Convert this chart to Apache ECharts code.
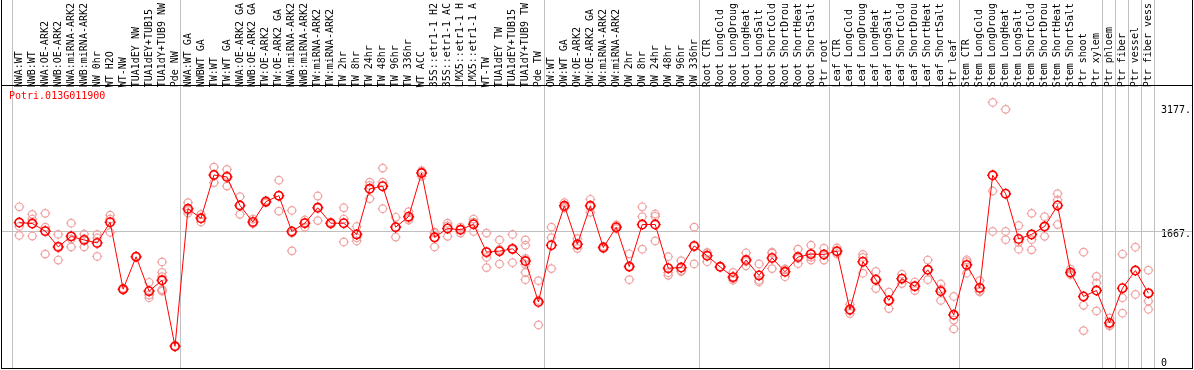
<!DOCTYPE html>
<html><head><meta charset="utf-8">
<script src="https://cdn.jsdelivr.net/npm/echarts@6/dist/echarts.min.js"></script>
<style>html,body{margin:0;padding:0;background:#fff}#c{width:1194px;height:370px}</style>
</head><body><div id="c"></div>
<script>
const geneTitle = 'Potri.013G011900';

const categories = [
  'NWA:WT','NWB:WT','NWA:OE-ARK2','NWB:OE-ARK2','NWA:miRNA-ARK2','NWB:miRNA-ARK2','NW 0hr','WT H2O','WT-NW','TUA1dEY NW','TUA1dEY+TUB15','TUA1dY+TUB9 NW','Pde NW',
  'NWA:WT GA','NWBWT GA','TW:WT','TW:WT GA','NWA:OE-ARK2 GA','NWB:OE-ARK2 GA','TW:OE-ARK2','TW:OE-ARK2 GA','NWA:miRNA-ARK2','NWB:miRNA-ARK2','TW:miRNA-ARK2','TW:miRNA-ARK2',
  'TW 2hr','TW 8hr','TW 24hr','TW 48hr','TW 96hr','TW 336hr','WT ACC','35S::etr1-1 H2','35S::etr1-1 AC','LMX5::etr1-1 H','LMX5::etr1-1 A','WT-TW','TUA1dEY TW','TUA1dEY+TUB15','TUA1dY+TUB9 TW','Pde TW',
  'OW:WT','OW:WT GA','OW:OE-ARK2','OW:OE-ARK2 GA','OW:miRNA-ARK2','OW:miRNA-ARK2','OW 2hr','OW 8hr','OW 24hr','OW 48hr','OW 96hr','OW 336hr',
  'Root CTR','Root LongCold','Root LongDroug','Root LongHeat','Root LongSalt','Root ShortCold','Root ShortDrou','Root ShortHeat','Root ShortSalt','Ptr root',
  'Leaf CTR','Leaf LongCold','Leaf LongDroug','Leaf LongHeat','Leaf LongSalt','Leaf ShortCold','Leaf ShortDrou','Leaf ShortHeat','Leaf ShortSalt','Ptr leaf',
  'Stem CTR','Stem LongCold','Stem LongDroug','Stem LongHeat','Stem LongSalt','Stem ShortCold','Stem ShortDrou','Stem ShortHeat','Stem ShortSalt','Ptr shoot','Ptr xylem',
  'Ptr phloem','Ptr fiber','Ptr vessel','Ptr fiber vess'
];

const means = [
  1770,1758,1666,1474,1602,1558,1522,1774,959,1354,935,1067,264,
  1938,1822,2349,2325,1978,1777,2025,2097,1662,1762,1950,1762,
  1762,1626,2181,2213,1714,1842,2373,1590,1698,1682,1750,1410,1422,1450,1302,803,
  1494,1974,1506,1974,1466,1714,1234,1746,1746,1214,1222,1486,
  1366,1231,1106,1314,1127,1339,1171,1350,1386,1382,
  1422,711,1294,1075,823,1087,995,1195,935,647,
  1255,975,2345,2121,1570,1626,1722,1978,1163,871,943,
  548,971,1186,911
];

const replicates = [
  [1962,1722,1614],[1870,1813,1606],[1882,1714,1386],[1626,1314,1482],[1762,1474,1570],[1630,1474,1570],[1626,1582,1358],[1861,1813,1650],[970,959,948],[1360,1350,1352],[1043,887,855],[1291,1163,1111,955,935,950],[270,260,262],
  [2013,1885,1916],[1870,1777,1819],[2445,2257,2345],[2417,2214,2344],[2085,1870,1979],[1813,1760,1758],[2040,2010,2025],[2285,1909,2097],[1918,1426,1642],[1801,1714,1771],[2093,1794,1963],[1775,1750,1761],
  [1950,1813,1534],[1722,1586,1546],[2261,2061,2221],[2433,2261,1938],[1834,1594,1714],[1902,1801,1823],[2401,2333,2385],[1654,1474,1642],[1762,1602,1730],[1714,1642,1690],[1813,1662,1775],[1642,1346,1222],[1558,1266,1442],[1626,1282,1442],[1558,1494,1334,1262,1163,1075],[1063,524,822],
  [1714,1586,1210],[2013,1950,1958],[1574,1454,1490],[2053,1894,1975],[1480,1450,1468],[1742,1694,1706],[1390,1075,1237],[1962,1842,1446],[1874,1846,1546],[1354,1160,1128],[1306,1174,1186],[1714,1266,1478],
  [1406,1294,1398],[1235,1228,1230],[1163,1087,1068],[1402,1243,1297],[1266,1047,1068],[1410,1210,1397],[1206,1111,1196],[1446,1270,1334],[1494,1314,1350],[1458,1314,1374],
  [1462,1414,1390],[775,663,695],[1382,1154,1346],[1175,967,1083],[923,723,823],[1142,1027,1092],[1046,943,996],[1314,1075,1196],[1022,823,960],[871,584,476],
  [1294,1154,1317],[1063,935,927],[3232,2154,1662],[3148,1662,1562],[1734,1446,1530],[1882,1562,1438],[1842,1602,1722],[2121,2045,1746],[1202,1135,1152],[1410,763,455],[1115,1035,695],
  [608,515,514],[1387,855,667],[1470,895],[1190,815,715]
];

// last category index of each group (vertical separators drawn after them); -1 = before the first
const groupEnds = [-1, 12, 40, 52, 62, 72, 83, 84, 85, 86, 87];
const yTickValues = [0, 1667, 3177];
const yTickLabels = ['0', '1667.', '3177.'];
const refLineValue = 1667;

const FONT = 'DejaVu Sans Mono';
const frame = { left: 1, right: 1193, top: 0, header: 85, bottom: 368 };
const yMax = 3392;

const markerPath = 'path://M10,0L10,1.6M10,18.4L10,20M0,10L1.6,10M18.4,10L20,10' +
  'M17.6,10C17.6,14.2 14.2,17.6 10,17.6C5.8,17.6 2.4,14.2 2.4,10C2.4,5.8 5.8,2.4 10,2.4C14.2,2.4 17.6,5.8 17.6,10Z';

const repData = [];
replicates.forEach((arr, i) => arr.forEach(v => repData.push([i, v])));

const chart = echarts.init(document.getElementById('c'), null, { renderer: 'canvas' });
const nCat = categories.length;

const yLabelBase = { margin: 6, fontFamily: FONT, fontSize: 10, color: '#000',
                     formatter: v => yTickLabels[yTickValues.indexOf(v)] };

chart.setOption({
  animation: false,
  backgroundColor: '#fff',
  title: {
    text: geneTitle, left: 9, top: 91, padding: 0,
    textStyle: { color: '#ff0000', fontFamily: FONT, fontSize: 10, fontWeight: 'normal' }
  },
  grid: { left: 12.8, width: nCat * 13, top: frame.header, height: frame.bottom - frame.header, containLabel: false },
  xAxis: [
    {
      type: 'category', data: categories, position: 'top', boundaryGap: true,
      axisLine: { show: false }, axisTick: { show: false }, splitLine: { show: false },
      axisLabel: { interval: 0, rotate: 90, margin: 2, fontFamily: FONT, fontSize: 10, color: '#000' }
    },
    { type: 'value', min: -0.5, max: nCat - 0.5, show: false }
  ],
  yAxis: [
    {
      type: 'value', min: 0, max: yMax, position: 'right',
      axisLine: { show: false }, axisTick: { show: false }, splitLine: { show: false },
      axisLabel: Object.assign({}, yLabelBase, { customValues: yTickValues.slice(1), verticalAlign: 'top', lineHeight: 7 })
    },
    {
      type: 'value', min: 0, max: yMax, position: 'right',
      axisLine: { show: false }, axisTick: { show: false }, splitLine: { show: false },
      axisLabel: Object.assign({}, yLabelBase, { customValues: [yTickValues[0]], verticalAlign: 'bottom', lineHeight: 10 })
    }
  ],
  series: [
    {
      type: 'custom', xAxisIndex: 1, yAxisIndex: 0, clip: false, silent: true, z: 1,
      data: groupEnds.map(i => [i + 0.4]),
      renderItem: (params, api) => {
        const x = Math.round(api.coord([api.value(0), 0])[0]) + 0.5;
        return { type: 'line', shape: { x1: x, y1: frame.top, x2: x, y2: frame.bottom },
                 style: { stroke: '#c0c0c0', lineWidth: 1 } };
      }
    },
    {
      type: 'custom', xAxisIndex: 1, yAxisIndex: 0, clip: false, silent: true, z: 1,
      data: [[0, refLineValue]],
      renderItem: (params, api) => {
        const y = Math.round(api.coord([0, api.value(1)])[1]) + 0.5;
        return { type: 'line', shape: { x1: frame.left, y1: y, x2: frame.right, y2: y },
                 style: { stroke: '#c0c0c0', lineWidth: 1 } };
      }
    },
    {
      type: 'scatter', xAxisIndex: 0, yAxisIndex: 0, data: repData, z: 2,
      symbol: markerPath, symbolSize: 10,
      itemStyle: { color: 'rgba(255,255,255,0)', borderColor: '#f0a0a0', borderWidth: 1.2, opacity: 1 }
    },
    {
      type: 'line', xAxisIndex: 0, yAxisIndex: 0, data: means, z: 3,
      symbol: markerPath, symbolSize: 11, showSymbol: true,
      lineStyle: { color: '#ff0000', width: 1 },
      itemStyle: { color: 'rgba(255,255,255,0)', borderColor: '#ff0000', borderWidth: 1.6 }
    }
  ],
  graphic: [
    { type: 'line', shape: { x1: frame.left + 0.5, y1: frame.top, x2: frame.left + 0.5, y2: frame.bottom + 1 }, style: { stroke: '#000', lineWidth: 1 }, z: 10 },
    { type: 'line', shape: { x1: frame.right - 0.5, y1: frame.top, x2: frame.right - 0.5, y2: frame.bottom + 1 }, style: { stroke: '#000', lineWidth: 1 }, z: 10 },
    { type: 'line', shape: { x1: frame.left, y1: frame.bottom + 0.5, x2: frame.right, y2: frame.bottom + 0.5 }, style: { stroke: '#000', lineWidth: 1 }, z: 10 },
    { type: 'line', shape: { x1: frame.left, y1: frame.header + 0.5, x2: frame.right, y2: frame.header + 0.5 }, style: { stroke: '#000', lineWidth: 1 }, z: 10 }
  ]
});
</script>
</body></html>
